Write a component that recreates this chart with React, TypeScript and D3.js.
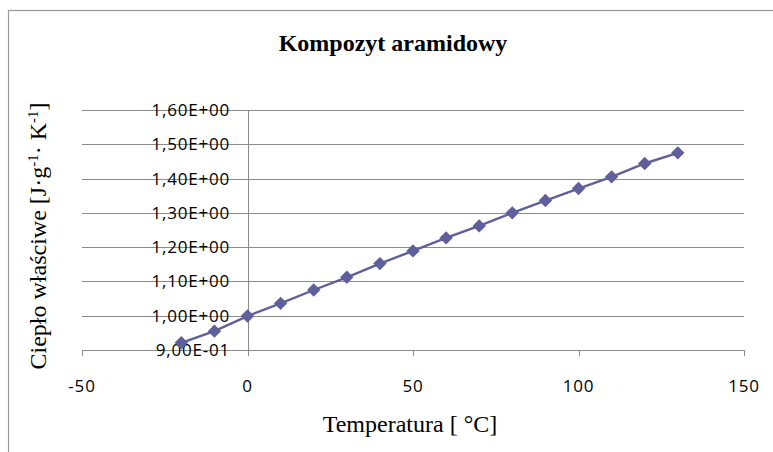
import React from "react";
import * as d3 from "d3";

const temperatures = [-20, -10, 0, 10, 20, 30, 40, 50, 60, 70, 80, 90, 100, 110, 120, 130];
const heatCapacity = [0.921, 0.955, 0.999, 1.036, 1.075, 1.112, 1.152, 1.189, 1.227, 1.262, 1.3, 1.336, 1.371, 1.405, 1.444, 1.475];
const xTicks = [-50, 0, 50, 100, 150];
const yTicks = [0.9, 1.0, 1.1, 1.2, 1.3, 1.4, 1.5, 1.6];
const yTickLabels = ["9,00E-01", "1,00E+00", "1,10E+00", "1,20E+00", "1,30E+00", "1,40E+00", "1,50E+00", "1,60E+00"];

const W = 773;
const H = 452;
const COLOR = "#5F5F9C";
const GRID = "#8C8C8C";
const SANS = "'Open Sans', 'Liberation Sans', sans-serif";
const SERIF = "'Liberation Serif', 'Times New Roman', serif";

export default function App() {
  const x = d3.scaleLinear().domain([-50, 150]).range([82, 744]);
  const y = d3.scaleLinear().domain([0.9, 1.6]).range([350, 110]);
  const data = temperatures.map((t, i) => ({ t, v: heatCapacity[i] }));
  const line = d3
    .line<{ t: number; v: number }>()
    .x((d) => x(d.t))
    .y((d) => y(d.v));
  const diamond = d3.symbol().type(d3.symbolSquare).size(90)();

  return (
    <svg
      width={W}
      height={H}
      style={{ position: "absolute", left: 0, top: 0, background: "#fff" }}
    >
      <rect x={8.5} y={10.5} width={W + 10} height={H + 10} fill="#fff" stroke="#999" strokeWidth={1.2} />
      <text x={393} y={51} textAnchor="middle" fontFamily={SERIF} fontWeight="bold" fontSize={24} fill="#000">
        Kompozyt aramidowy
      </text>
      {/* gridlines */}
      {yTicks.map((v) => (
        <line key={"g" + v} x1={x(-50)} x2={x(150)} y1={Math.round(y(v)) + 0.5} y2={Math.round(y(v)) + 0.5} stroke={GRID} strokeWidth={1} />
      ))}
      {/* y axis */}
      <line x1={Math.round(x(0)) + 0.5} x2={Math.round(x(0)) + 0.5} y1={y(1.6)} y2={y(0.9) + 6} stroke={GRID} strokeWidth={1} />
      {/* x ticks */}
      {xTicks.map((t) => (
        <line key={"xt" + t} x1={Math.round(x(t)) + 0.5} x2={Math.round(x(t)) + 0.5} y1={y(0.9)} y2={y(0.9) + 6} stroke={GRID} strokeWidth={1} />
      ))}
      {/* y tick labels */}
      {yTicks.map((v, i) => (
        <text key={"yl" + v} x={230} y={y(v) + 6} textAnchor="end" fontFamily={SANS} fontSize={17} letterSpacing={0.8} fill="#000">
          {yTickLabels[i]}
        </text>
      ))}
      {/* x tick labels */}
      {xTicks.map((t) => (
        <text key={"xl" + t} x={x(t)} y={392} textAnchor="middle" fontFamily={SANS} fontSize={17} letterSpacing={0.8} fill="#000">
          {t}
        </text>
      ))}
      {/* series */}
      <path d={line(data) || ""} fill="none" stroke={COLOR} strokeWidth={2.4} />
      {data.map((d) => (
        <path key={"m" + d.t} d={diamond || ""} transform={`translate(${x(d.t)},${y(d.v)}) rotate(45)`} fill={COLOR} />
      ))}
      {/* axis titles */}
      <text x={410} y={432} textAnchor="middle" fontFamily={SERIF} fontSize={24} fill="#000">
        Temperatura [ °C]
      </text>
      <text transform="translate(46,236) rotate(-90)" textAnchor="middle" fontFamily={SERIF} fontSize={24} fill="#000">
        Ciepło właściwe [J·g
        <tspan baselineShift="super" fontSize={15}>-1</tspan>
        · K
        <tspan baselineShift="super" fontSize={15}>-1</tspan>]
      </text>
    </svg>
  );
}
